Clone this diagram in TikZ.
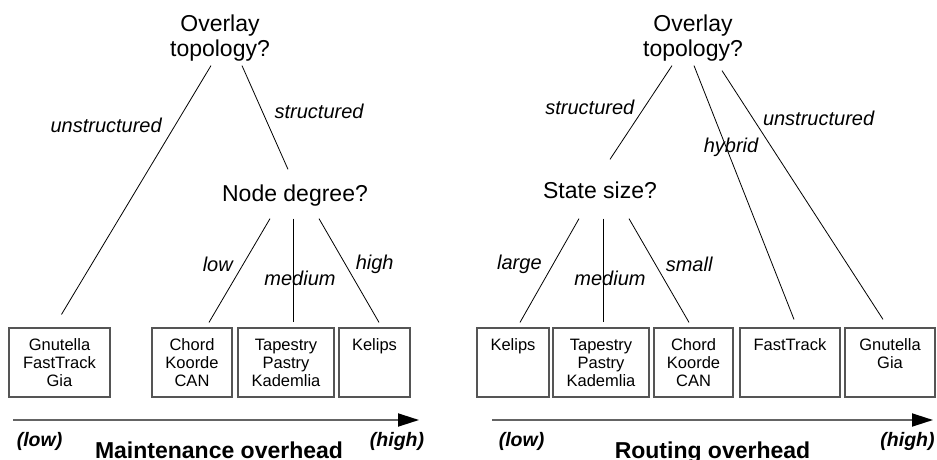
\documentclass[tikz,border=0pt]{standalone}
\usepackage{fontspec}
\setmainfont{Liberation Sans}
\usetikzlibrary{calc,arrows.meta}
\definecolor{boxgray}{RGB}{85,85,85}
\definecolor{axisgray}{RGB}{100,100,100}
\begin{document}
\begin{tikzpicture}
	[x=1pt, y=-1pt, line width=0.8pt,
	quest/.style={inner sep=0pt, align=center, font=\fontsize{23}{25}\selectfont},
	oneline/.style={text height=16.7pt, text depth=4.8pt},
	lab/.style={inner sep=1pt, font=\fontsize{20}{22}\selectfont\itshape},
	sys/.style={draw=boxgray, line width=1.2pt, inner sep=0pt, minimum height=69pt, align=center, font=\fontsize{16.5}{18}\selectfont},
	axend/.style={inner sep=0pt, anchor=base, font=\fontsize{19.5}{22}\selectfont\bfseries\itshape},
	axtitle/.style={inner sep=0pt, anchor=base, font=\fontsize{23}{25}\selectfont\bfseries},
	axarrow/.style={draw=axisgray, line width=1.8pt, -{Triangle[length=21pt,width=13pt,color=black]}}]
	\useasboundingbox (0,0) rectangle (937,460);
	\node[quest] (ml) at (220,38) {Overlay\\topology?};
	\node[quest, oneline] (dl) at (295,195.5) {Node degree?};
	\node[sys, minimum width=101pt] (gl) at (59.5,362.5) {Gnutella\\FastTrack\\Gia};
	\node[sys, minimum width=80pt] (cl) at (192,362.5) {Chord\\Koorde\\CAN};
	\node[sys, minimum width=96pt] (tl) at (286,362.5) {Tapestry\\Pastry\\Kademlia};
	\node[sys, minimum width=71pt] (kl) at (374.5,362.5) {Kelips\\~\\~};
	\draw ($(ml.south)+(-9,4)$) edge node[lab, pos=0.24, left=12pt] {unstructured} ($(gl.north)+(2,-13)$);
	\draw ($(ml.south)+(22,4)$) edge node[lab, pos=0.44, right=11pt] {structured} ($(dl.north)+(-7,-15)$);
	\draw ($(dl.south)+(-25,12)$) edge node[lab, pos=0.44, left=9pt] {low} ($(cl.north)+(17,-5)$);
	\draw ($(dl.south)+(-2,12)$) edge node[lab, pos=0.58, xshift=7pt] {medium} ($(tl.north)+(7,-5)$);
	\draw ($(dl.south)+(24,12)$) edge node[lab, pos=0.44, right=9pt] {high} ($(kl.north)+(4.5,-5)$);
	\coordinate (al) at (13,420);
	\coordinate (bl) at (419,420);
	\draw (al) edge[axarrow] (bl);
	\node[axend] (lol) at (39.5,446) {(low)};
	\node[axtitle] (mt) at (219,458) {Maintenance overhead};
	\node[axend] (hil) at (397,446) {(high)};
	\node[quest] (mr) at (693,38) {Overlay\\topology?};
	\node[quest, oneline] (sr) at (600,192.5) {State size?};
	\node[sys, minimum width=72pt] (kr) at (513,362.5) {Kelips\\~\\~};
	\node[sys, minimum width=96pt] (tr) at (601,362.5) {Tapestry\\Pastry\\Kademlia};
	\node[sys, minimum width=79pt] (cr) at (693.5,362.5) {Chord\\Koorde\\CAN};
	\node[sys, minimum width=100pt] (fr) at (790,362.5) {FastTrack\\~\\~};
	\node[sys, minimum width=90pt] (gr) at (890,362.5) {Gnutella\\Gia\\~};
	\draw ($(mr.south)+(-21,4)$) edge node[lab, pos=0.44, left=9pt] {structured} ($(sr.north)+(10,-22)$);
	\draw ($(mr.south)+(1,4)$) edge node[lab, pos=0.32, xshift=5pt] {hybrid} ($(fr.north)+(4,-8)$);
	\draw ($(mr.south)+(29,9)$) edge node[lab, pos=0.19, right=9pt] {unstructured} ($(gr.north)+(-7,-8)$);
	\draw ($(sr.south)+(-21,15)$) edge node[lab, pos=0.44, left=10pt] {large} ($(kr.north)+(7,-5)$);
	\draw ($(sr.south)+(3,15)$) edge node[lab, pos=0.58, xshift=7pt] {medium} ($(tr.north)+(2,-5)$);
	\draw ($(sr.south)+(29,15)$) edge node[lab, pos=0.44, right=9pt] {small} ($(cr.north)+(-4.5,-5)$);
	\coordinate (ar) at (492,420);
	\coordinate (br) at (933,420);
	\draw (ar) edge[axarrow] (br);
	\node[axend] (lor) at (521.5,446) {(low)};
	\node[axtitle] (rt) at (712.5,458) {Routing overhead};
	\node[axend] (hir) at (907.5,446) {(high)};
\end{tikzpicture}
\end{document}
